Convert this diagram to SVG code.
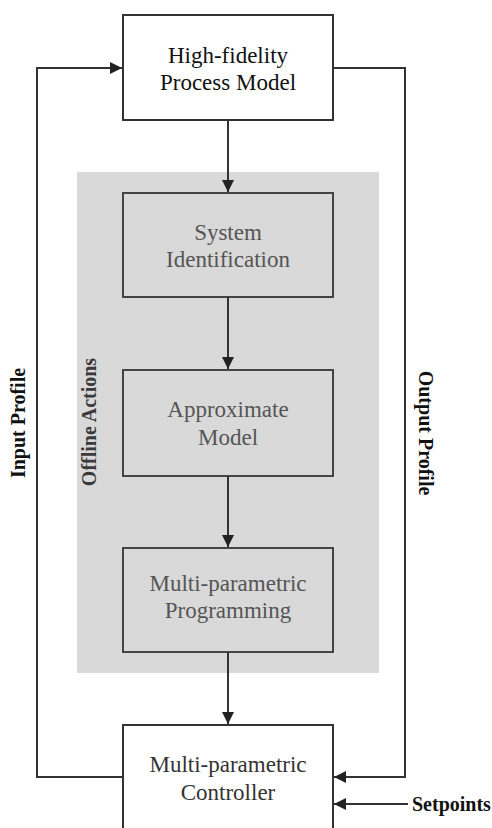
<svg xmlns="http://www.w3.org/2000/svg" width="492" height="828" viewBox="0 0 492 828">
<style>
.box{fill:#fff;stroke:#333;stroke-width:2}
.gbox{fill:#d9d9d9;stroke:#444;stroke-width:2}
.t{font-family:"Liberation Serif","Times New Roman",serif;font-size:23px;text-anchor:middle}
.lbl{font-family:"Liberation Serif","Times New Roman",serif;font-size:20px;font-weight:bold;text-anchor:middle}
.c line,.c polyline{fill:none;stroke:#333;stroke-width:2;marker-end:url(#ah)}
</style>
<defs>
<marker id="ah" viewBox="0 0 10 10" refX="10" refY="5" markerWidth="6" markerHeight="6" orient="auto" markerUnits="strokeWidth">
<path d="M0,0 L10,5 L0,10 Z" fill="#222"/>
</marker>
</defs>
<rect width="492" height="828" fill="#fff"/>
<g id="offline">
<rect x="77" y="172" width="302" height="501" fill="#d9d9d9"/>
<text class="lbl" fill="#3a3a3a" transform="translate(96,422) rotate(-90)">Offline Actions</text>
</g>
<g id="hifi">
<rect class="box" x="123" y="15" width="210" height="105"/>
<text class="t" x="228" y="63" fill="#111">High-fidelity</text>
<text class="t" x="228" y="90" fill="#111">Process Model</text>
</g>
<g id="sysid">
<rect class="gbox" x="123" y="193" width="210" height="104"/>
<text class="t" x="228" y="240" fill="#555">System</text>
<text class="t" x="228" y="267" fill="#555">Identification</text>
</g>
<g id="approx">
<rect class="gbox" x="123" y="370" width="210" height="106"/>
<text class="t" x="228" y="417" fill="#555">Approximate</text>
<text class="t" x="228" y="445" fill="#555">Model</text>
</g>
<g id="mpp">
<rect class="gbox" x="123" y="548" width="210" height="104"/>
<text class="t" x="228" y="591" fill="#555">Multi-parametric</text>
<text class="t" x="228" y="618" fill="#555">Programming</text>
</g>
<g id="controller">
<rect class="box" x="123" y="725" width="210" height="120"/>
<text class="t" x="228" y="772" fill="#333">Multi-parametric</text>
<text class="t" x="228" y="800" fill="#333">Controller</text>
</g>
<g class="c" id="connectors">
<line x1="228" y1="120" x2="228" y2="192"/>
<line x1="228" y1="297" x2="228" y2="369"/>
<line x1="228" y1="476" x2="228" y2="547"/>
<line x1="228" y1="652" x2="228" y2="724"/>
<polyline points="123,777 37,777 37,68 122,68"/>
<polyline points="333,68 405,68 405,777 334,777"/>
<line x1="408" y1="804" x2="334" y2="804"/>
</g>
<g id="labels">
<text class="lbl" fill="#111" transform="translate(25,423) rotate(-90)">Input Profile</text>
<text class="lbl" fill="#111" transform="translate(419,433) rotate(90)">Output Profile</text>
<text class="lbl" fill="#111" x="412" y="811" style="text-anchor:start">Setpoints</text>
</g>
</svg>
